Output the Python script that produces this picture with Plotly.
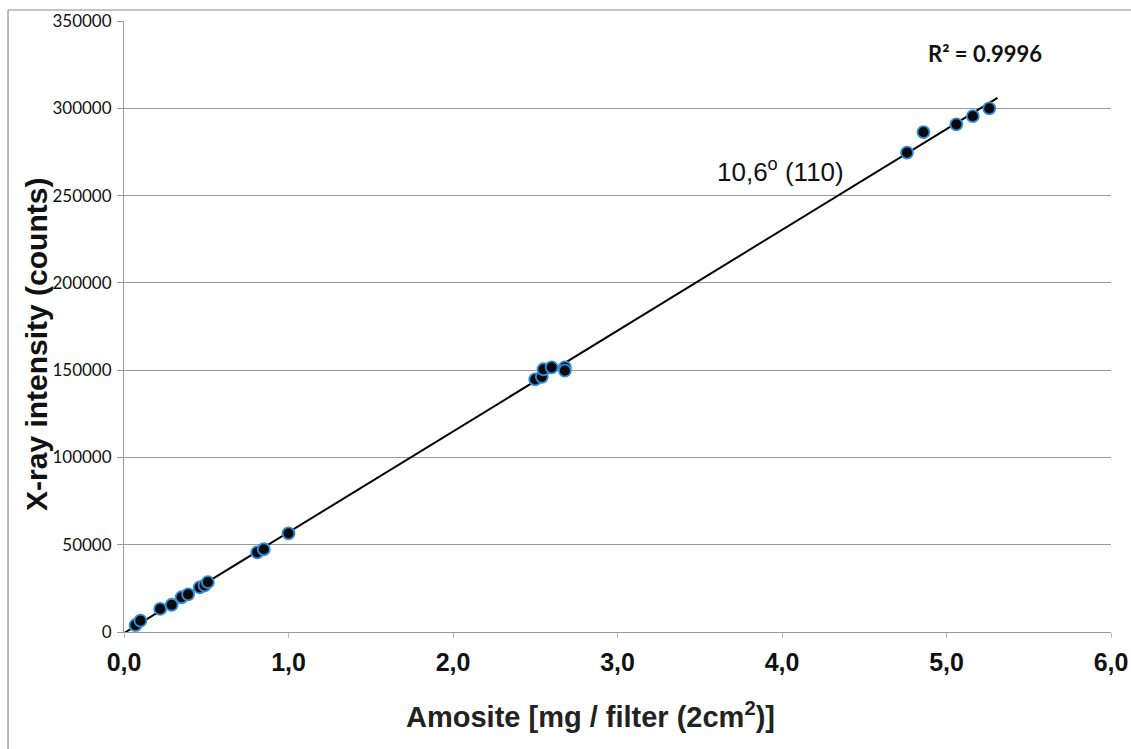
import numpy as np
import plotly.graph_objects as go

# Data
amosite_mg = [0.07, 0.10, 0.22, 0.29, 0.35, 0.39, 0.46, 0.49, 0.51, 0.81, 0.85, 1.00,
              2.50, 2.54, 2.55, 2.60, 2.68, 2.68,
              4.76, 4.86, 5.06, 5.16, 5.26]
xray_counts = [4000, 6500, 13200, 15600, 19900, 21600, 25600, 26700, 28600, 45600, 47400, 56500,
               144700, 146200, 150500, 151600, 151600, 149700,
               274600, 286400, 290800, 295500, 299900]
trend_x_range = [0.0, 5.31]

x_ticks = [0, 1, 2, 3, 4, 5, 6]
x_tick_labels = ["0,0", "1,0", "2,0", "3,0", "4,0", "5,0", "6,0"]
y_ticks = [0, 50000, 100000, 150000, 200000, 250000, 300000, 350000]
y_tick_labels = ["0", "50000", "100000", "150000", "200000", "250000", "300000", "350000"]

x_title = "Amosite [mg / filter (2cm<sup>2</sup>)]"
y_title = "X-ray intensity (counts)"

slope, intercept = np.polyfit(amosite_mg, xray_counts, 1)
trend_y = [slope * v + intercept for v in trend_x_range]

fig = go.Figure()
fig.add_trace(go.Scatter(
    x=trend_x_range, y=trend_y, mode="lines",
    line=dict(color="black", width=2), showlegend=False, hoverinfo="skip"))
fig.add_trace(go.Scatter(
    x=amosite_mg, y=xray_counts, mode="markers",
    marker=dict(size=12, color="#0a0a0a", line=dict(color="#2f8ee0", width=1.8)),
    showlegend=False))

arial = "Liberation Sans, Arial, sans-serif"

fig.update_layout(
    width=1131, height=749,
    margin=dict(l=124, r=20, t=21, b=117),
    paper_bgcolor="white", plot_bgcolor="white",
    xaxis=dict(
        range=[0, 6], tickvals=x_ticks,
        ticktext=["<b>%s</b>" % t for t in x_tick_labels],
        automargin=False,
        showgrid=False, zeroline=False,
        showline=True, linecolor="#9a9a9a", linewidth=1,
        ticks="outside", ticklen=5, tickcolor="#bbbbbb",
        ticklabelstandoff=3,
        tickfont=dict(family=arial, size=25, color="#111111"),
    ),
    yaxis=dict(
        range=[0, 350000], tickvals=y_ticks, ticktext=y_tick_labels,
        automargin=False,
        showgrid=True, gridcolor="#9a9a9a", gridwidth=1,
        zeroline=False,
        showline=True, linecolor="#9a9a9a", linewidth=1,
        ticks="outside", ticklen=6, tickcolor="#9a9a9a",
        ticklabelstandoff=2,
        tickfont=dict(family="Lato, Open Sans, sans-serif", size=17, color="#111111"),
    ),
    shapes=[
        dict(type="line", xref="paper", yref="paper", x0=-0.1175, x1=1.03, y0=1.018, y1=1.018,
             line=dict(color="#8a8a8a", width=1.2)),
        dict(type="line", xref="paper", yref="paper", x0=-0.1175, x1=-0.1175, y0=1.018, y1=-0.2,
             line=dict(color="#8a8a8a", width=1.2)),
    ],
    annotations=[
        dict(x=0.473, y=-0.136, xref="paper", yref="paper", text="<b>%s</b>" % x_title,
             showarrow=False, xanchor="center", yanchor="middle",
             font=dict(family=arial, size=29, color="#222222")),
        dict(x=-0.088, y=0.470, xref="paper", yref="paper", text="<b>%s</b>" % y_title,
             showarrow=False, textangle=-90, xanchor="center", yanchor="middle",
             font=dict(family=arial, size=30, color="#111111")),
        dict(x=3.99, y=264600, xref="x", yref="y", text="10,6<sup>o</sup> (110)",
             showarrow=False, font=dict(family=arial, size=26, color="#111111")),
        dict(x=5.234, y=331300, xref="x", yref="y", text="<b>R² = 0.9996</b>",
             showarrow=False, font=dict(family="Lato, Open Sans, sans-serif", size=22, color="#111111")),
    ],
)

fig.write_html("out.html")
